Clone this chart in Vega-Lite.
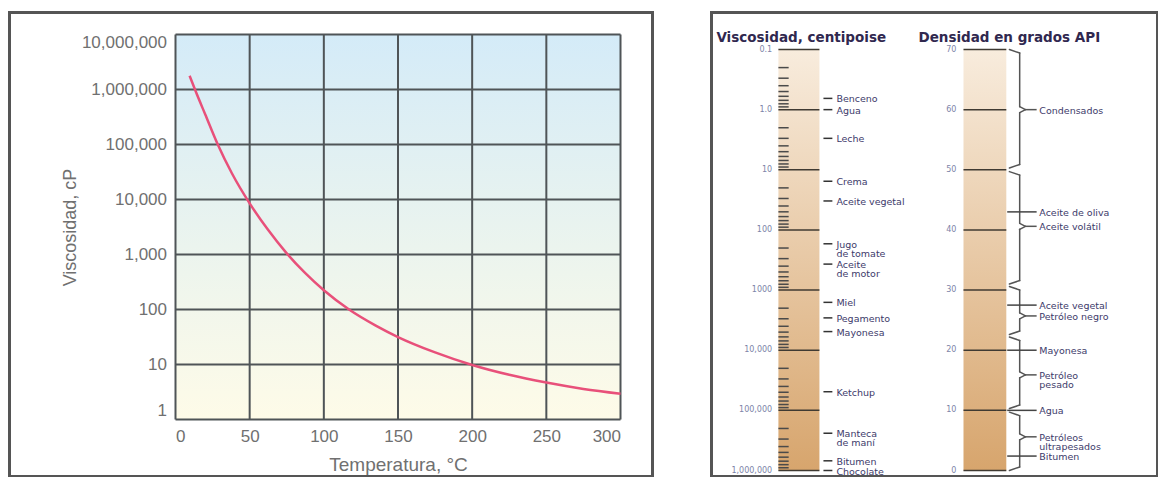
{
  "$schema": "https://vega.github.io/schema/vega-lite/v6.json",
  "padding": {"left": 7.5, "top": 10.5, "right": 0, "bottom": 0},
  "spacing": 55,
  "config": {
    "view": {"stroke": "#555555", "strokeWidth": 3},
    "font": "Liberation Sans"
  },
  "datasets": {
    "curva": [
      {"t": 9.5, "v": 1780000},
      {"t": 14, "v": 870000},
      {"t": 20, "v": 355000},
      {"t": 28.5, "v": 100000},
      {"t": 38, "v": 30000},
      {"t": 50, "v": 8500},
      {"t": 62, "v": 2900},
      {"t": 75, "v": 1050},
      {"t": 87.5, "v": 457},
      {"t": 100, "v": 224},
      {"t": 117, "v": 100},
      {"t": 135, "v": 51},
      {"t": 150, "v": 31.6},
      {"t": 175, "v": 16.6},
      {"t": 200, "v": 9.8},
      {"t": 225, "v": 6.5},
      {"t": 250, "v": 4.7},
      {"t": 275, "v": 3.6},
      {"t": 300, "v": 2.95}
    ],
    "rejillaT": [{"t": 0}, {"t": 50}, {"t": 100}, {"t": 150}, {"t": 200}, {"t": 250}, {"t": 300}],
    "rejillaV": [{"v": 1}, {"v": 10}, {"v": 100}, {"v": 1000}, {"v": 10000}, {"v": 100000}, {"v": 1000000}, {"v": 10000000}],
    "decadas": [
      {"v": 0.1, "lab": "0.1"},
      {"v": 1, "lab": "1.0"},
      {"v": 10, "lab": "10"},
      {"v": 100, "lab": "100"},
      {"v": 1000, "lab": "1000"},
      {"v": 10000, "lab": "10,000"},
      {"v": 100000, "lab": "100,000"},
      {"v": 1000000, "lab": "1,000,000"}
    ],
    "menores": [
      {"v": 0.2}, {"v": 0.3}, {"v": 0.4}, {"v": 0.5}, {"v": 0.6}, {"v": 0.7}, {"v": 0.8}, {"v": 0.9},
      {"v": 2}, {"v": 3}, {"v": 4}, {"v": 5}, {"v": 6}, {"v": 7}, {"v": 8}, {"v": 9},
      {"v": 20}, {"v": 30}, {"v": 40}, {"v": 50}, {"v": 60}, {"v": 70}, {"v": 80}, {"v": 90},
      {"v": 200}, {"v": 300}, {"v": 400}, {"v": 500}, {"v": 600}, {"v": 700}, {"v": 800}, {"v": 900},
      {"v": 2000}, {"v": 3000}, {"v": 4000}, {"v": 5000}, {"v": 6000}, {"v": 7000}, {"v": 8000}, {"v": 9000},
      {"v": 20000}, {"v": 30000}, {"v": 40000}, {"v": 50000}, {"v": 60000}, {"v": 70000}, {"v": 80000}, {"v": 90000},
      {"v": 200000}, {"v": 300000}, {"v": 400000}, {"v": 500000}, {"v": 600000}, {"v": 700000}, {"v": 800000}, {"v": 900000}
    ],
    "materiales": [
      {"m": "Benceno", "v": 0.65},
      {"m": "Agua", "v": 1},
      {"m": "Leche", "v": 3},
      {"m": "Crema", "v": 15.5},
      {"m": "Aceite vegetal", "v": 33},
      {"m": "Jugo\nde tomate", "v": 170},
      {"m": "Aceite\nde motor", "v": 370},
      {"m": "Miel", "v": 1600},
      {"m": "Pegamento", "v": 2900},
      {"m": "Mayonesa", "v": 4900},
      {"m": "Ketchup", "v": 49000},
      {"m": "Manteca\nde maní", "v": 240000},
      {"m": "Bitumen", "v": 690000},
      {"m": "Chocolate", "v": 1000000}
    ],
    "api": [
      {"g": 0}, {"g": 10}, {"g": 20}, {"g": 30}, {"g": 40}, {"g": 50}, {"g": 60}, {"g": 70}
    ],
    "llaves": [
      {"top": 70, "tip": 60, "bot": 50.3, "lab": "Condensados"},
      {"top": 49.7, "tip": 40.6, "bot": 31, "lab": "Aceite volátil"},
      {"top": 30.6, "tip": 25.7, "bot": 22.6, "lab": "Petróleo negro"},
      {"top": 22.2, "tip": 15.9, "bot": 10.3, "lab": "Petróleo\npesado"},
      {"top": 9.7, "tip": 5.6, "bot": 0, "lab": "Petróleos\nultrapesados"}
    ],
    "puntos": [
      {"g": 43, "lab": "Aceite de oliva"},
      {"g": 27.5, "lab": "Aceite vegetal"},
      {"g": 20, "lab": "Mayonesa"},
      {"g": 10, "lab": "Agua"},
      {"g": 2.4, "lab": "Bitumen"}
    ]
  },
  "hconcat": [
    {
      "width": 643,
      "height": 464,
      "layer": [
        {
          "data": {"values": [{}]},
          "mark": {
            "type": "rect",
            "color": {
              "gradient": "linear", "x1": 0, "y1": 0, "x2": 0, "y2": 1,
              "stops": [
                {"offset": 0, "color": "#d4ebf8"},
                {"offset": 0.55, "color": "#ebf4ee"},
                {"offset": 1, "color": "#fefbe8"}
              ]
            }
          },
          "encoding": {
            "x": {"datum": 0, "type": "quantitative"},
            "x2": {"datum": 300},
            "y": {"datum": 1, "type": "quantitative"},
            "y2": {"datum": 10000000}
          }
        },
        {
          "data": {"name": "rejillaT"},
          "mark": {"type": "rule", "color": "#4f5457", "strokeWidth": 2},
          "encoding": {
            "x": {"field": "t", "type": "quantitative"},
            "y": {"datum": 1, "type": "quantitative"},
            "y2": {"datum": 10000000}
          }
        },
        {
          "data": {"name": "rejillaV"},
          "mark": {"type": "rule", "color": "#4f5457", "strokeWidth": 2},
          "encoding": {
            "y": {"field": "v", "type": "quantitative"},
            "x": {"datum": 0, "type": "quantitative"},
            "x2": {"datum": 300}
          }
        },
        {
          "data": {"name": "curva"},
          "mark": {"type": "line", "color": "#e8507a", "strokeWidth": 2.5, "interpolate": "monotone"},
          "encoding": {
            "x": {
              "field": "t", "type": "quantitative",
              "scale": {"domain": [0, 300], "range": [166, 611], "nice": false, "zero": false},
              "axis": {
                "values": [0, 50, 100, 150, 200, 250, 300],
                "format": "d",
                "title": "Temperatura, °C",
                "offset": -57,
                "domain": false, "ticks": false, "grid": false,
                "labelFlush": true,
                "labelPadding": 9,
                "labelFontSize": 17,
                "labelColor": "#707070",
                "titleFontSize": 19,
                "titleFontWeight": "normal",
                "titleColor": "#707070",
                "titlePadding": 11
              }
            },
            "y": {
              "field": "v", "type": "quantitative",
              "scale": {"type": "log", "domain": [1, 10000000], "range": [407, 22]},
              "axis": {
                "values": [1, 10, 100, 1000, 10000, 100000, 1000000, 10000000],
                "format": ",",
                "title": "Viscosidad, cP",
                "offset": -166,
                "domain": false, "ticks": false, "grid": false,
                "labelFlush": true,
                "labelPadding": 9,
                "labelFontSize": 17,
                "labelColor": "#707070",
                "titleFontSize": 18,
                "titleFontWeight": "normal",
                "titleColor": "#707070",
                "titlePadding": 2
              }
            }
          }
        }
      ]
    },
    {
      "width": 446,
      "height": 464,
      "resolve": {"scale": {"y": "independent"}},
      "layer": [
        {
          "layer": [
            {
              "data": {"values": [{}]},
              "mark": {
                "type": "rect",
                "color": {
                  "gradient": "linear", "x1": 0, "y1": 0, "x2": 0, "y2": 1,
                  "stops": [
                    {"offset": 0, "color": "#f8ecdd"},
                    {"offset": 1, "color": "#d7a56d"}
                  ]
                }
              },
              "encoding": {
                "x": {"datum": 15.0, "type": "quantitative", "scale": {"domain": [0, 100], "nice": false, "zero": false}, "axis": null},
                "x2": {"datum": 24.2},
                "y": {"datum": 0.1, "type": "quantitative", "scale": {"type": "log", "domain": [0.1, 1000000], "range": [37, 458]}, "axis": null},
                "y2": {"datum": 1000000}
              }
            },
            {
              "data": {"name": "menores"},
              "mark": {"type": "rule", "color": "#4a4a4a", "strokeWidth": 1.5},
              "encoding": {
                "x": {"datum": 15.0, "type": "quantitative", "axis": null},
                "x2": {"datum": 17.3},
                "y": {"field": "v", "type": "quantitative", "axis": null}
              }
            },
            {
              "data": {"name": "decadas"},
              "mark": {"type": "rule", "color": "#3f3a32", "strokeWidth": 1.5},
              "encoding": {
                "x": {"datum": 15.0, "type": "quantitative", "axis": null},
                "x2": {"datum": 24.2},
                "y": {"field": "v", "type": "quantitative", "axis": null}
              }
            },
            {
              "data": {"name": "decadas"},
              "mark": {"type": "text", "align": "right", "baseline": "middle", "font": "DejaVu Sans", "fontSize": 8, "color": "#7d84a8"},
              "encoding": {
                "x": {"datum": 13.6, "type": "quantitative", "axis": null},
                "y": {"field": "v", "type": "quantitative", "axis": null},
                "text": {"field": "lab"}
              }
            },
            {
              "data": {"name": "materiales"},
              "mark": {"type": "rule", "color": "#333333", "strokeWidth": 1.5},
              "encoding": {
                "x": {"datum": 25.1, "type": "quantitative", "axis": null},
                "x2": {"datum": 27.1},
                "y": {"field": "v", "type": "quantitative", "axis": null}
              }
            },
            {
              "data": {"name": "materiales"},
              "mark": {"type": "text", "align": "left", "baseline": "top", "dy": -4, "lineBreak": "\n", "lineHeight": 9, "font": "DejaVu Sans", "fontSize": 9.5, "color": "#3d3a6a"},
              "encoding": {
                "x": {"datum": 28.0, "type": "quantitative", "axis": null},
                "y": {"field": "v", "type": "quantitative", "axis": null},
                "text": {"field": "m"}
              }
            },
            {
              "data": {"values": [{}]},
              "mark": {"type": "text", "text": "Viscosidad, centipoise", "align": "left", "baseline": "middle", "dy": -12, "font": "DejaVu Sans", "fontWeight": "bold", "fontSize": 13.5, "color": "#30284f"},
              "encoding": {
                "x": {"datum": 1.1, "type": "quantitative", "axis": null},
                "y": {"datum": 0.1, "type": "quantitative", "axis": null}
              }
            }
          ]
        },
        {
          "layer": [
            {
              "data": {"values": [{}]},
              "mark": {
                "type": "rect",
                "color": {
                  "gradient": "linear", "x1": 0, "y1": 0, "x2": 0, "y2": 1,
                  "stops": [
                    {"offset": 0, "color": "#f8ecdd"},
                    {"offset": 1, "color": "#d7a56d"}
                  ]
                }
              },
              "encoding": {
                "x": {"datum": 56.5, "type": "quantitative", "axis": null},
                "x2": {"datum": 66.1},
                "y": {"datum": 0, "type": "quantitative", "scale": {"domain": [0, 70], "range": [458, 37], "nice": false, "zero": false}, "axis": null},
                "y2": {"datum": 70}
              }
            },
            {
              "data": {"name": "api"},
              "mark": {"type": "rule", "color": "#3f3a32", "strokeWidth": 1.5},
              "encoding": {
                "x": {"datum": 56.5, "type": "quantitative", "axis": null},
                "x2": {"datum": 66.1},
                "y": {"field": "g", "type": "quantitative", "axis": null}
              }
            },
            {
              "data": {"name": "api"},
              "mark": {"type": "text", "align": "right", "baseline": "middle", "font": "DejaVu Sans", "fontSize": 8, "color": "#7d84a8"},
              "encoding": {
                "x": {"datum": 54.9, "type": "quantitative", "axis": null},
                "y": {"field": "g", "type": "quantitative", "axis": null},
                "text": {"field": "g", "type": "quantitative"}
              }
            },
            {
              "data": {"name": "llaves"},
              "layer": [
                {
                  "mark": {"type": "rule", "color": "#555555", "strokeWidth": 1.5, "strokeCap": "round", "y2Offset": 3.5},
                  "encoding": {
                    "x": {"datum": 66.8, "type": "quantitative", "axis": null},
                    "x2": {"datum": 69.1},
                    "y": {"field": "top", "type": "quantitative", "axis": null},
                    "y2": {"field": "top"}
                  }
                },
                {
                  "mark": {"type": "rule", "color": "#555555", "strokeWidth": 1.5, "strokeCap": "round", "yOffset": 3.5, "y2Offset": -3},
                  "encoding": {
                    "x": {"datum": 69.1, "type": "quantitative", "axis": null},
                    "y": {"field": "top", "type": "quantitative", "axis": null},
                    "y2": {"field": "tip"}
                  }
                },
                {
                  "mark": {"type": "rule", "color": "#555555", "strokeWidth": 1.5, "strokeCap": "round", "yOffset": -3},
                  "encoding": {
                    "x": {"datum": 69.1, "type": "quantitative", "axis": null},
                    "x2": {"datum": 70.4},
                    "y": {"field": "tip", "type": "quantitative", "axis": null},
                    "y2": {"field": "tip"}
                  }
                },
                {
                  "mark": {"type": "rule", "color": "#555555", "strokeWidth": 1.5, "strokeCap": "round", "yOffset": 3},
                  "encoding": {
                    "x": {"datum": 69.1, "type": "quantitative", "axis": null},
                    "x2": {"datum": 70.4},
                    "y": {"field": "tip", "type": "quantitative", "axis": null},
                    "y2": {"field": "tip"}
                  }
                },
                {
                  "mark": {"type": "rule", "color": "#555555", "strokeWidth": 1.5, "strokeCap": "round", "yOffset": 3, "y2Offset": -3.5},
                  "encoding": {
                    "x": {"datum": 69.1, "type": "quantitative", "axis": null},
                    "y": {"field": "tip", "type": "quantitative", "axis": null},
                    "y2": {"field": "bot"}
                  }
                },
                {
                  "mark": {"type": "rule", "color": "#555555", "strokeWidth": 1.5, "strokeCap": "round", "yOffset": -3.5},
                  "encoding": {
                    "x": {"datum": 69.1, "type": "quantitative", "axis": null},
                    "x2": {"datum": 66.8},
                    "y": {"field": "bot", "type": "quantitative", "axis": null},
                    "y2": {"field": "bot"}
                  }
                },
                {
                  "mark": {"type": "rule", "color": "#555555", "strokeWidth": 1.5},
                  "encoding": {
                    "x": {"datum": 70.4, "type": "quantitative", "axis": null},
                    "x2": {"datum": 72.9},
                    "y": {"field": "tip", "type": "quantitative", "axis": null}
                  }
                },
                {
                  "mark": {"type": "text", "align": "left", "baseline": "top", "dy": -4, "lineBreak": "\n", "lineHeight": 9, "font": "DejaVu Sans", "fontSize": 9.5, "color": "#3d3a6a"},
                  "encoding": {
                    "x": {"datum": 73.5, "type": "quantitative", "axis": null},
                    "y": {"field": "tip", "type": "quantitative", "axis": null},
                    "text": {"field": "lab"}
                  }
                }
              ]
            },
            {
              "data": {"name": "puntos"},
              "layer": [
                {
                  "mark": {"type": "rule", "color": "#444444", "strokeWidth": 1.5},
                  "encoding": {
                    "x": {"datum": 66.3, "type": "quantitative", "axis": null},
                    "x2": {"datum": 72.9},
                    "y": {"field": "g", "type": "quantitative", "axis": null}
                  }
                },
                {
                  "mark": {"type": "text", "align": "left", "baseline": "top", "dy": -4, "font": "DejaVu Sans", "fontSize": 9.5, "color": "#3d3a6a"},
                  "encoding": {
                    "x": {"datum": 73.5, "type": "quantitative", "axis": null},
                    "y": {"field": "g", "type": "quantitative", "axis": null},
                    "text": {"field": "lab"}
                  }
                }
              ]
            },
            {
              "data": {"values": [{}]},
              "mark": {"type": "text", "text": "Densidad en grados API", "align": "left", "baseline": "middle", "dy": -12, "font": "DejaVu Sans", "fontWeight": "bold", "fontSize": 13.5, "color": "#30284f"},
              "encoding": {
                "x": {"datum": 46.4, "type": "quantitative", "axis": null},
                "y": {"datum": 70, "type": "quantitative", "axis": null}
              }
            }
          ]
        }
      ]
    }
  ]
}
